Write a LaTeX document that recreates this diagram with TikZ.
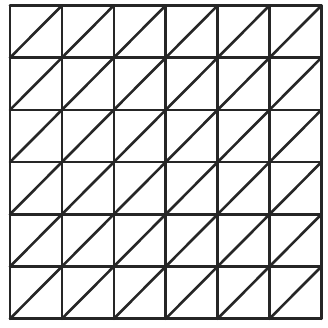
\documentclass[tikz,border=0pt]{standalone}
\begin{document}
\begin{tikzpicture}[x=1pt,y=-1pt,
  gridline/.style={line width=2.6pt,draw=black!85,line cap=round},
  diag/.style={line width=2.6pt,draw=black!85,line cap=round}]
\useasboundingbox (0,0) rectangle (328,327);
\def\xa{10}\def\cw{51.9}\def\ya{5.5}\def\ch{52.2}
\foreach \i in {0,...,6}{
  \foreach \j in {0,...,6}{
    \coordinate (p-\i-\j) at ({\xa+\i*\cw},{\ya+\j*\ch});
  }
}
\foreach \i in {0,...,6}{
  \draw[gridline] (p-\i-0) -- (p-\i-6);
  \draw[gridline] (p-0-\i) -- (p-6-\i);
}
\foreach \i [evaluate=\i as \ii using int(\i+1)] in {0,...,5}{
  \foreach \j [evaluate=\j as \jj using int(\j+1)] in {0,...,5}{
    \draw[diag] (p-\i-\jj) -- (p-\ii-\j);
  }
}
\end{tikzpicture}
\end{document}
